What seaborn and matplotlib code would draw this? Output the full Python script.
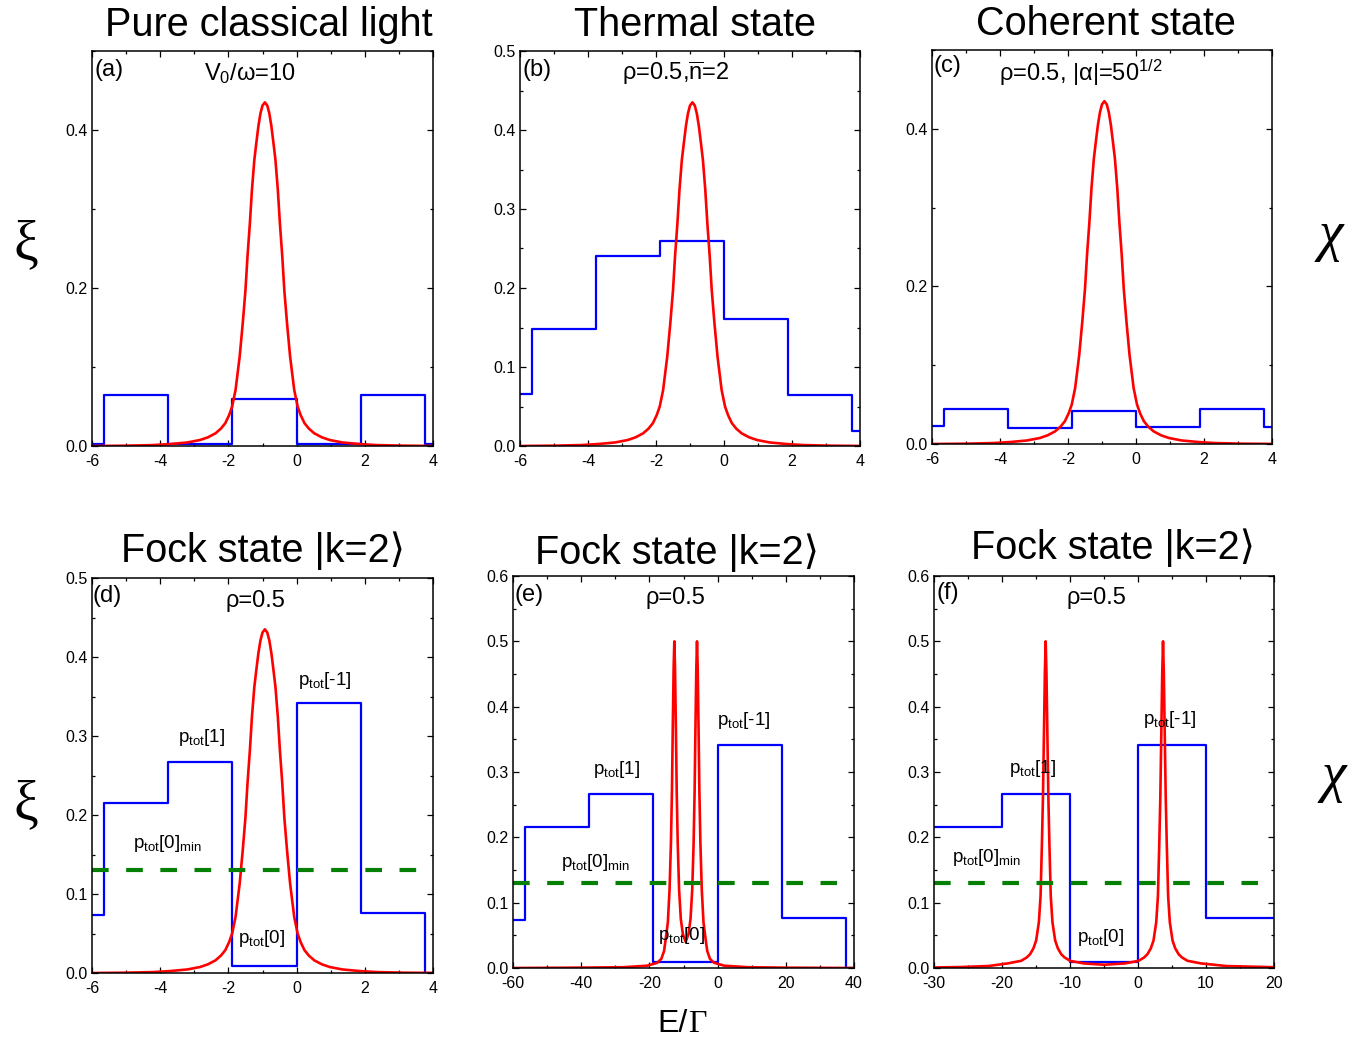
import matplotlib
matplotlib.use("Agg")
import matplotlib.pyplot as plt
from matplotlib.ticker import MultipleLocator, FormatStrFormatter
import seaborn as sns
import pandas as pd

sns.set_style("ticks")
plt.rcParams['font.family'] = ['Liberation Sans', 'DejaVu Sans']
plt.rcParams['mathtext.fontset'] = 'custom'
plt.rcParams['mathtext.rm'] = 'Liberation Sans'
plt.rcParams['mathtext.it'] = 'Liberation Sans:italic'
plt.rcParams['mathtext.sf'] = 'Liberation Sans'
plt.rcParams['axes.unicode_minus'] = False
for k in ['text.color', 'axes.labelcolor', 'xtick.color', 'ytick.color', 'axes.edgecolor']:
    plt.rcParams[k] = 'black'

W, H = 1371, 1051

# ---------------- data ----------------
# shared red peak curve for panels (a)-(d)
peak_x = [-6, -5, -4.2, -3.7, -3.2, -2.83, -2.6, -2.38, -2.22, -2.09, -1.98, -1.89, -1.79, -1.73,
          -1.67, -1.58, -1.50, -1.44, -1.37, -1.31, -1.24, -1.18, -1.12, -1.06, -1.00, -0.93,
          -0.86, -0.80, -0.74, -0.68, -0.62, -0.55, -0.49, -0.42, -0.36, -0.28, -0.19, -0.13,
          -0.07, 0.03, 0.12, 0.23, 0.36, 0.52, 0.74, 0.97, 1.34, 1.84, 2.34, 3.14, 4]
peak_y = [0.0, 0.0004, 0.0012, 0.0025, 0.0045, 0.0076, 0.011, 0.016, 0.022, 0.029, 0.039, 0.050, 0.071, 0.092,
          0.113, 0.155, 0.197, 0.240, 0.282, 0.324, 0.362, 0.384, 0.405, 0.421, 0.431, 0.435,
          0.431, 0.421, 0.405, 0.384, 0.362, 0.324, 0.282, 0.240, 0.197, 0.155, 0.113, 0.092,
          0.071, 0.050, 0.039, 0.029, 0.022, 0.016, 0.011, 0.0076, 0.0045, 0.0025, 0.0012, 0.0004, 0.0001]

# red double peak, panel (e)
e_red_x = [-60, -45, -35, -27.7, -20.7, -17.7, -16.5, -15.7, -15.2, -14.59, -14.09, -13.69, -13.39,
           -13.14, -12.89, -12.69, -12.49, -12.24, -11.99, -11.69, -11.29, -10.79, -10.19, -9.36,
           -8.54, -7.94, -7.44, -7.04, -6.74, -6.49, -6.24, -6.04, -5.84, -5.59, -5.34, -5.04,
           -4.64, -4.14, -3.54, -3.04, -2.24, -1.04, 1.96, 8.96, 20, 40]
e_red_y = [0.0, 0.0004, 0.0008, 0.0012, 0.0035, 0.008, 0.014, 0.026, 0.045, 0.07, 0.12, 0.19, 0.27,
           0.37, 0.46, 0.5, 0.46, 0.37, 0.27, 0.19, 0.12, 0.075, 0.052, 0.040,
           0.052, 0.075, 0.12, 0.19, 0.27, 0.37, 0.46, 0.5, 0.46, 0.37, 0.27, 0.19,
           0.12, 0.07, 0.045, 0.026, 0.014, 0.008, 0.0035, 0.0012, 0.0005, 0.0]

# red double peak, panel (f)
f_red_x = [-30, -26, -22, -19.18, -17.18, -16.38, -15.88, -15.38, -14.98, -14.58, -14.33, -14.13,
           -13.98, -13.83, -13.70, -13.58, -13.46, -13.33, -13.18, -13.03, -12.83, -12.58, -12.18,
           -11.78, -11.28, -10.78, -9.98, -7.98, -5.0, -1.92, 0.08, 0.88, 1.38, 1.88, 2.28, 2.68,
           2.93, 3.13, 3.28, 3.43, 3.56, 3.68, 3.80, 3.93, 4.08, 4.23, 4.43, 4.68, 5.08, 5.48,
           5.98, 6.48, 7.28, 9.28, 13, 20]
f_red_y = [0.0008, 0.0015, 0.003, 0.007, 0.011, 0.016, 0.021, 0.03, 0.042, 0.07, 0.11, 0.19,
           0.26, 0.36, 0.45, 0.5, 0.45, 0.36, 0.26, 0.19, 0.11, 0.07, 0.042,
           0.03, 0.021, 0.016, 0.011, 0.007, 0.005, 0.007, 0.011, 0.016, 0.021, 0.03, 0.042, 0.07,
           0.11, 0.19, 0.26, 0.36, 0.45, 0.5, 0.45, 0.36, 0.26, 0.19, 0.11, 0.07, 0.042, 0.03,
           0.021, 0.016, 0.011, 0.007, 0.003, 0.0012]

# blue step distributions (edges, level on each interval)
edges_small = [-6, -5.64, -3.76, -1.88, 0, 1.88, 3.76, 4]
a_levels = [0.003, 0.064, 0.002, 0.060, 0.002, 0.064, 0.003]
b_levels = [0.066, 0.148, 0.241, 0.260, 0.161, 0.065, 0.019]
c_levels = [0.023, 0.045, 0.020, 0.042, 0.022, 0.045, 0.0215]
d_levels = [0.073, 0.2155, 0.267, 0.009, 0.342, 0.076, 0.0]
edges_e = [-60, -56.4, -37.6, -18.8, 0, 18.8, 37.6, 40]
e_levels = [0.073, 0.2155, 0.267, 0.009, 0.342, 0.076, 0.0]
edges_f = [-30, -20, -10, 0, 10, 20]
f_levels = [0.2155, 0.267, 0.009, 0.342, 0.076]

# green dashed threshold p_tot[0]_min
green_level = 0.13
green_d_x = [-6, 3.52]
green_e_x = [-60, 35.0]
green_f_x = [-30, 17.6]

titles = ["Pure classical light", "Thermal state", "Coherent state",
          "Fock state |k=2\u27e9", "Fock state |k=2\u27e9", "Fock state |k=2\u27e9"]
panel_tags = ["(a)", "(b)", "(c)", "(d)", "(e)", "(f)"]
params = ["V$_{0}$/\u03c9=10", "\u03c1=0.5,$\\overline{\\mathregular{n}}$=2",
          "\u03c1=0.5, |\u03b1|=50$^{\\mathregular{1/2}}$", "\u03c1=0.5", "\u03c1=0.5", "\u03c1=0.5"]
p_labels = ["p$_{\\mathregular{tot}}$[-1]", "p$_{\\mathregular{tot}}$[1]",
            "p$_{\\mathregular{tot}}$[0]$_{\\mathregular{min}}$", "p$_{\\mathregular{tot}}$[0]"]
# label anchor positions (data coords) for panels d, e, f
p_pos_d = [(0.04, 0.365), (-3.48, 0.292), (-4.80, 0.158), (-1.72, 0.038)]
p_pos_e = [(-0.2, 0.372), (-36.5, 0.297), (-45.9, 0.155), (-17.5, 0.043)]
p_pos_f = [(0.74, 0.374), (-18.97, 0.298), (-27.35, 0.162), (-8.97, 0.040)]

# ---------------- layout ----------------
fig = plt.figure(figsize=(W / 100, H / 100), dpi=100)


def rect(l, t, r, b):
    return [l / W, 1 - b / H, (r - l) / W, (b - t) / H]


def fpos(x, y):
    return x / W, 1 - y / H


rects = [rect(92, 51, 433, 446), rect(520, 51, 860, 446), rect(932, 50, 1272, 444),
         rect(92, 578, 433, 973), rect(513, 576, 854, 968), rect(934, 576, 1274, 968)]
axes = [fig.add_axes(r) for r in rects]

RED = "#ff0000"
BLUE = "#0000ff"
GREEN = "#058005"


def steps(ax, edges, levels):
    df = pd.DataFrame({"x": edges, "y": list(levels) + [levels[-1]]})
    sns.lineplot(data=df, x="x", y="y", ax=ax, color=BLUE, lw=1.6, drawstyle="steps-post",
                 estimator=None, sort=False)


def curve(ax, xs, ys):
    df = pd.DataFrame({"x": xs, "y": ys})
    sns.lineplot(data=df, x="x", y="y", ax=ax, color=RED, lw=1.9, estimator=None, sort=False)
    ax.lines[-1].set_solid_joinstyle('round')


def green(ax, xs):
    df = pd.DataFrame({"x": xs, "y": [green_level] * len(xs)})
    sns.lineplot(data=df, x="x", y="y", ax=ax, color=GREEN, lw=3.0, estimator=None, sort=False)
    ax.lines[-1].set_dashes((4.0, 4.2))


steps(axes[0], edges_small, a_levels); curve(axes[0], peak_x, peak_y)
steps(axes[1], edges_small, b_levels); curve(axes[1], peak_x, peak_y)
steps(axes[2], edges_small, c_levels); curve(axes[2], peak_x, peak_y)
steps(axes[3], edges_small, d_levels); curve(axes[3], peak_x, peak_y); green(axes[3], green_d_x)
steps(axes[4], edges_e, e_levels); curve(axes[4], e_red_x, e_red_y); green(axes[4], green_e_x)
steps(axes[5], edges_f, f_levels); curve(axes[5], f_red_x, f_red_y); green(axes[5], green_f_x)

xlims = [(-6, 4)] * 4 + [(-60, 40), (-30, 20)]
xmaj = [2, 2, 2, 2, 20, 10]
ylims = [(0, 0.5)] * 4 + [(0, 0.6), (0, 0.6)]
ymaj = [0.2, 0.1, 0.2, 0.1, 0.1, 0.1]
ymin_ = [0.1, 0.05, 0.1, 0.05, 0.05, 0.05]

for i, ax in enumerate(axes):
    ax.set_xlim(*xlims[i])
    ax.set_ylim(*ylims[i])
    ax.xaxis.set_major_locator(MultipleLocator(xmaj[i]))
    ax.xaxis.set_minor_locator(MultipleLocator(xmaj[i] / 2))
    ax.yaxis.set_major_locator(MultipleLocator(ymaj[i]))
    ax.yaxis.set_minor_locator(MultipleLocator(ymin_[i]))
    ax.yaxis.set_major_formatter(FormatStrFormatter('%.1f'))
    ax.xaxis.set_major_formatter(FormatStrFormatter('%d'))
    ax.tick_params(which='both', direction='in', top=True, right=True, width=0.9,
                   color='black', labelcolor='black')
    ax.tick_params(which='major', length=4, labelsize=11.5)
    ax.tick_params(axis='x', which='major', pad=6)
    ax.tick_params(axis='y', which='major', pad=3)
    ax.tick_params(which='minor', length=2.5)
    for s in ax.spines.values():
        s.set_linewidth(1.1)
        s.set_color('black')
    ax.set_xlabel("")
    ax.set_ylabel("")

# titles
title_pos = [(269, 25), (695, 25), (1106, 24), (263, 551), (677, 553), (1113, 548)]
for t, (x, y) in zip(titles, title_pos):
    fig.text(*fpos(x, y), t, ha='center', va='center', fontsize=28.5,
             family=['Liberation Sans', 'DejaVu Sans'])

# panel tags
tag_pos = [(94, 70), (522, 70), (933, 66), (93, 596), (514, 595), (936, 593)]
for t, (x, y) in zip(panel_tags, tag_pos):
    fig.text(*fpos(x, y), t, ha='left', va='center', fontsize=17)

# parameter annotations
param_pos = [(250, 80), (676, 80), (1081, 81), (255, 607), (675, 604), (1096, 604)]
for t, (x, y) in zip(params, param_pos):
    fig.text(*fpos(x, y), t, ha='center', va='baseline', fontsize=17)

# p_tot labels
for ax, pos in zip(axes[3:], [p_pos_d, p_pos_e, p_pos_f]):
    for lab, (x, y) in zip(p_labels, pos):
        ax.text(x, y, lab, ha='left', va='baseline', fontsize=13.5)

# axis symbols
fig.text(*fpos(26, 245), "\u03be", ha='center', va='center', fontsize=40, family='Liberation Serif')
fig.text(*fpos(26, 805), "\u03be", ha='center', va='center', fontsize=40, family='Liberation Serif')
fig.text(*fpos(1331, 236), "\u03c7", ha='center', va='center', fontsize=40,
         family='Liberation Serif', style='italic')
fig.text(*fpos(1334, 777), "\u03c7", ha='center', va='center', fontsize=40,
         family='Liberation Serif', style='italic')
fig.text(*fpos(688, 1024), "E/", ha='right', va='center', fontsize=23)
fig.text(*fpos(688, 1024), "\u0393", ha='left', va='center', fontsize=23, family='Liberation Serif')

fig.savefig("out.png", dpi=100)
